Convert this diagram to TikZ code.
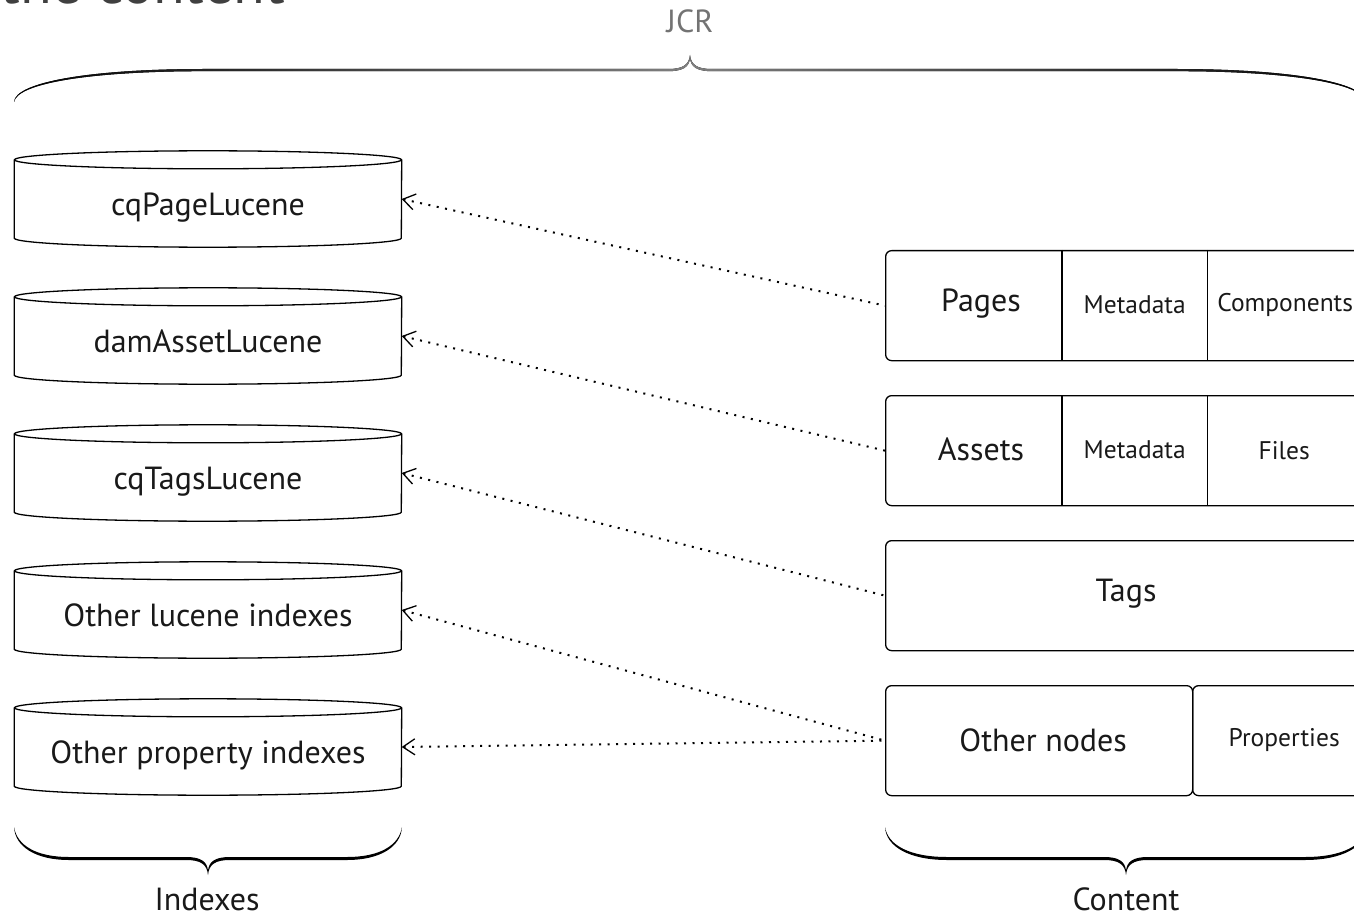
\documentclass[tikz,border=0pt]{standalone}
\usepackage{fontspec}
\setmainfont{PT Sans}
\usetikzlibrary{arrows.meta}

% curly brace as a tapered filled shape, drawn in local coordinates
% #1 width, #2 depth of the flat part, #3 tip height, #4 length of end curve,
% #5 thickness, #6 fill options
\newcommand{\bracefill}[6]{%
  \fill[#6] (0,0) .. controls (1,{0.6*#2}) and ({0.4*#4},#2) .. (#4,#2)
    -- ({#1/2-22},#2) .. controls ({#1/2-7},#2) and ({#1/2-1},{#2+0.3*#3}) .. ({#1/2},{#2+#3})
    .. controls ({#1/2+1},{#2+0.3*#3}) and ({#1/2+7},#2) .. ({#1/2+22},#2)
    -- ({#1-#4},#2) .. controls ({#1-0.4*#4},#2) and ({#1-1},{0.6*#2}) .. (#1,0)
    .. controls ({#1-3},{0.6*#2-0.5*#5}) and ({#1-0.4*#4},{#2-#5}) .. ({#1-#4},{#2-#5})
    -- ({#1/2+22},{#2-#5}) .. controls ({#1/2+7},{#2-#5}) and ({#1/2+1},{#2+0.3*#3-#5}) .. ({#1/2},{#2+#3-1.5*#5})
    .. controls ({#1/2-1},{#2+0.3*#3-#5}) and ({#1/2-7},{#2-#5}) .. ({#1/2-22},{#2-#5})
    -- (#4,{#2-#5}) .. controls ({0.4*#4},{#2-#5}) and (3,{0.6*#2-0.5*#5}) .. (0,0) -- cycle;}

% database cylinder around a named node
\newcommand{\drawcyl}[1]{%
  \draw[cylline] (#1.north west) -- (#1.south west)
    arc[start angle=180, end angle=360, x radius=193.5pt, y radius=9pt] -- (#1.north east);
  \draw[cylline] (#1.north) ellipse [x radius=193.5pt, y radius=9pt];}

\tikzset{
  cylline/.style={line width=1.3pt, black},
  cyl/.style={minimum width=387pt, minimum height=78pt, inner sep=0pt,
    text height=33pt, text depth=0pt,
    font=\fontsize{32}{38}\selectfont, text=black!90},
  rowbox/.style={draw, line width=1.3pt, rounded corners=6pt, minimum height=110pt,
    anchor=north west, inner sep=0pt},
  cell/.style={minimum height=110pt, anchor=north west, inner sep=0pt,
    font=\fontsize{25.5}{30}\selectfont, text=black!90},
  biglabel/.style={font=\fontsize{32}{38}\selectfont, text=black!90},
  divider/.style={line width=1.3pt},
  link/.style={line width=2pt, dash pattern=on 2pt off 6.5pt,
    {Straight Barb[length=12pt,width=16pt,line width=1.3pt]}-},
}

\begin{document}
\begin{tikzpicture}[x=1pt,y=-1pt]
\useasboundingbox (0,0) rectangle (1354,917);

% heading running off the top edge
\node[anchor=base east, inner sep=0pt, font=\fontsize{58}{66}\selectfont, text=black!75] (title) at (285,4) {the content};

% JCR brace
\begin{scope}[shift={(14,102)}, yscale=-1]
  \bracefill{1352}{33}{14}{190}{2.2}{left color=black, right color=black, middle color=black!50}
\end{scope}
\node[font=\fontsize{32}{38}\selectfont, text=black!55] (jcr) at (690,21) {JCR};

% index cylinders
\node[cyl] (c1) at (208,199) {cqPageLucene};
\node[cyl] (c2) at (208,336) {damAssetLucene};
\node[cyl] (c3) at (208,473) {cqTagsLucene};
\node[cyl] (c4) at (208,610) {Other lucene indexes};
\node[cyl] (c5) at (208,747) {Other property indexes};
\drawcyl{c1}\drawcyl{c2}\drawcyl{c3}\drawcyl{c4}\drawcyl{c5}

% content rows
\node[rowbox, minimum width=500pt] (pagesrow) at (885,250) {};
\node[biglabel] (pages) at (981,304) {Pages};
\node[cell, minimum width=145pt] (pmeta) at (1062,250) {Metadata};
\node[cell, minimum width=156pt] (pcomp) at (1207,250) {Components};
\draw[divider] (pmeta.north west) -- (pmeta.south west);
\draw[divider] (pmeta.north east) -- (pmeta.south east);

\node[rowbox, minimum width=500pt] (assetsrow) at (885,395) {};
\node[biglabel] (assets) at (981,449) {Assets};
\node[cell, minimum width=145pt] (ameta) at (1062,395) {Metadata};
\node[cell, minimum width=154pt] (afiles) at (1207,395) {Files};
\draw[divider] (ameta.north west) -- (ameta.south west);
\draw[divider] (ameta.north east) -- (ameta.south east);

\node[rowbox, minimum width=500pt] (tagsrow) at (885,540) {};
\node[biglabel] (tags) at (1126,594) {Tags};

\node[rowbox, minimum width=307pt, biglabel] (other) at (885,685) {\hspace*{8pt}Other nodes};
\node[rowbox, minimum width=200pt] (proprow) at (1192,685) {};
\node[cell, minimum width=184pt] (props) at (1192,685) {Properties};

% index references
\draw[link] (c1.east) -- (pagesrow.west);
\draw[link] (c2.east) -- (assetsrow.west);
\draw[link] (c3.east) -- (tagsrow.west);
\draw[link] (c4.east) -- (other.west);
\draw[link] (c5.east) -- (other.west);

% group braces
\begin{scope}[shift={(14,827)}]
  \bracefill{388}{33}{15}{55}{3}{black}
\end{scope}
\begin{scope}[shift={(885,827)}]
  \bracefill{482}{33}{15}{62}{3}{black}
\end{scope}
\node[biglabel] (indexes) at (207,899) {Indexes};
\node[biglabel] (content) at (1126,899) {Content};
\end{tikzpicture}
\end{document}
